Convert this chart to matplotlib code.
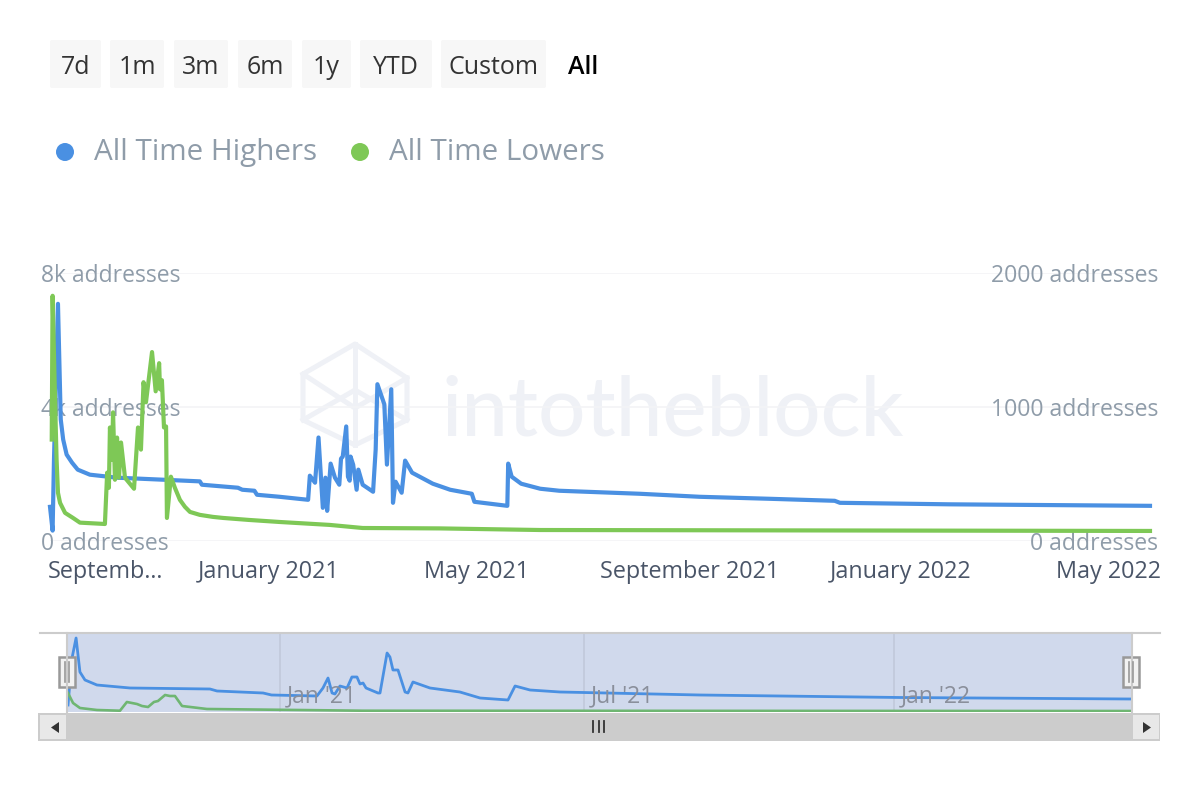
import numpy as np
import matplotlib
matplotlib.use("Agg")
import matplotlib.dates as mdates
import matplotlib.patches as mpt
import matplotlib.pyplot as plt
from matplotlib.transforms import ScaledTranslation

plt.rcParams["font.family"] = ["Open Sans", "DejaVu Sans"]

START_DATE = "2020-08-28"

# main chart, days since START_DATE
high_days = [0, 1.5, 2.3, 4.6, 6.2, 7.6, 9.6, 12.7, 16, 23, 38.7, 65, 86.5, 87.7, 108.5, 111, 118, 119.5, 132.5,
             149, 150, 153, 155, 157.5, 159, 160, 162, 164.5, 167, 168, 169, 171, 172, 173, 173.5, 175,
             177, 178, 180.5, 186.5, 188, 189, 193, 194.5, 197, 198, 199.5, 203, 205, 209, 221, 231,
             243.5, 245, 264, 264.5, 266.5, 272, 283, 294, 340.5, 375, 415.5, 453, 456, 519, 635]
high_values = [1020, 310, 2430, 7080, 3630, 3030, 2580, 2340, 2130, 1980, 1890, 1830, 1780, 1680, 1590, 1530, 1500, 1380, 1320,
               1230, 1950, 1740, 3090, 990, 1890, 900, 2310, 1890, 1680, 2460, 2520, 3420, 1920, 1800, 2520, 2280,
               1530, 2130, 1680, 1470, 2730, 4680, 4080, 2280, 4530, 1140, 1770, 1440, 2400, 2040, 1710, 1530,
               1410, 1170, 1050, 2310, 1920, 1710, 1560, 1500, 1410, 1320, 1260, 1200, 1140, 1095, 1050]

low_days = [1, 1.5, 2.9, 3.8, 4.6, 5.8, 8.7, 13.3, 17.3, 31.7, 33, 34, 34.6, 35.8, 36.4, 37.5, 38.7, 39.8, 41, 43.3,
            48.5, 50.8, 52.5, 54, 55.4, 58.9, 61, 63, 63.5, 64.6, 65.8, 67, 67.5, 69.8, 72.1, 75, 77.9, 80.8, 86.5, 94, 100,
            115, 132.5, 161.5, 180.5, 225, 283, 635]
low_values = [757, 1830, 1057, 607, 360, 285, 210, 172, 137, 127, 510, 397, 847, 607, 960, 457, 772, 472, 735, 472,
              390, 847, 682, 1185, 1035, 1410, 1117, 1327, 1132, 1200, 847, 855, 172, 480, 397, 307, 255, 217, 195, 180, 172,
              157, 142, 120, 97, 94, 82, 75]

# navigator series (smoothed)
nav_high_days = [0, 2.4, 4.8, 7.1, 10.1, 17.2, 36.9, 84.4, 88.6, 116, 121, 148, 151.6, 154.6, 157, 158.7, 161.7,
                 165.9, 168.8, 171.8, 173.6, 175.4, 177.2, 184.3, 185.5, 189.7, 191.4, 193.2, 196.2, 200.4,
                 202.1, 205.1, 215.2, 233, 245, 261.6, 265.8, 274.7, 292.5, 375.7, 494.6, 632]
nav_high_values = [700, 5400, 7400, 4000, 3200, 2700, 2400, 2300, 2100, 1900, 1700, 1600, 2400, 3400, 1900, 1800, 2600,
                   2400, 3500, 3500, 2800, 2900, 2400, 1900, 1900, 5900, 5500, 4200, 4200, 2000,
                   1900, 3000, 2400, 2000, 1400, 1200, 2600, 2200, 2000, 1700, 1450, 1300]
nav_low_days = [0, 3, 7.1, 17.2, 30.9, 35, 41, 44, 47.6, 51.1, 53.5, 57.7, 60.6, 63.6, 67.8, 82.6, 175.4, 632]
nav_low_values = [475, 225, 100, 50, 32, 250, 200, 150, 125, 250, 275, 425, 400, 400, 150, 75, 32, 25]

x_tick_dates = ["2020-09-01", "2021-01-01", "2021-05-01", "2021-09-01", "2022-01-01", "2022-05-01"]
x_tick_labels = ["Septemb…", "January 2021", "May 2021", "September 2021", "January 2022", "May 2022"]
left_ticks = [0, 4000, 8000]
left_labels = ["0 addresses", "4k addresses", "8k addresses"]
right_ticks = [0, 1000, 2000]
right_labels = ["0 addresses", "1000 addresses", "2000 addresses"]
nav_tick_dates = ["2021-01-01", "2021-07-01", "2022-01-01"]
nav_tick_labels = ["Jan '21", "Jul '21", "Jan '22"]
range_buttons = ["7d", "1m", "3m", "6m", "1y", "YTD", "Custom"]
button_edges = [(50, 101), (110, 164), (174, 228), (238, 292), (302, 351), (360, 432), (441, 546)]

BLUE = "#4a90e2"
GREEN = "#7ec856"
GREY = "#8f9ca9"
GRID = "#f3f4f6"
MARK = "#eff1f6"
BORDER = "#cccccc"

W, H = 1200, 800


def to_dates(days):
    return mdates.date2num(np.datetime64(START_DATE)) + np.array(days, dtype=float)


def px_axes(x0, y0, x1, y1, zorder):
    a = fig.add_axes([x0 / W, 1 - y1 / H, (x1 - x0) / W, (y1 - y0) / H], zorder=zorder)
    a.patch.set_visible(False)
    return a


def overlay(zorder):
    a = fig.add_axes([0, 0, 1, 1], zorder=zorder)
    a.set_xlim(0, W)
    a.set_ylim(H, 0)
    a.axis("off")
    a.patch.set_visible(False)
    return a


fig = plt.figure(figsize=(12, 8), dpi=100)
bg = overlay(0)
fg = overlay(5)

# watermark
logo = [[(303, 374), (355, 344), (407, 378), (355, 408), (303, 374), (303, 420), (355, 445), (407, 420), (407, 378)],
        [(355, 344), (355, 408)], [(303, 420), (355, 390), (407, 420)], [(355, 408), (355, 445)]]
for part in logo:
    xs, ys = zip(*part)
    bg.plot(xs, ys, color=MARK, lw=3.6, solid_joinstyle="round")
bg.text(441, 413, "intotheblock", fontsize=60, color=MARK, family="Lato", weight="medium", va="center", ha="left")

# main chart
ax = px_axes(50, 273, 1150, 541, 2)
ax.set_axisbelow(True)
ax.plot(to_dates(high_days), high_values, color=BLUE, lw=3.0, solid_joinstyle="round", clip_on=False)
ax.set_xlim(to_dates([0, 635]))
ax.set_ylim(0, 8000)
ax.set_yticks(left_ticks)
ax.set_yticklabels(left_labels)
ax.grid(axis="y", color=GRID, lw=1.2)
ax.tick_params(axis="y", length=0, pad=6.5, labelsize=16.5, labelcolor=GREY)
for label in ax.get_yticklabels():
    label.set_ha("left")
ax.set_xticks(mdates.date2num(np.array(x_tick_dates, dtype="datetime64[D]")))
ax.set_xticklabels(x_tick_labels)
ax.tick_params(axis="x", length=0, pad=13.5, labelsize=16.8, labelcolor="#4a5568")
first_label = ax.get_xticklabels()[0]
first_label.set_ha("left")
first_label.set_transform(first_label.get_transform() + ScaledTranslation(-9 / 100, 0, fig.dpi_scale_trans))
for side in ax.spines.values():
    side.set_visible(False)

ax_right = ax.twinx()
ax_right.set_zorder(3)
ax_right.patch.set_visible(False)
ax_right.set_axisbelow(True)
ax_right.plot(to_dates(low_days), low_values, color=GREEN, lw=3.0, solid_joinstyle="round", clip_on=False)
ax_right.set_ylim(0, 2000)
ax_right.set_yticks(right_ticks)
ax_right.set_yticklabels(right_labels)
ax_right.tick_params(axis="y", length=0, pad=6, labelsize=16.6, labelcolor=GREY)
for label in ax_right.get_yticklabels():
    label.set_ha("right")
for side in ax_right.spines.values():
    side.set_visible(False)

# navigator
nav = px_axes(68, 633, 1131, 712, 2)
nav.patch.set_visible(True)
nav.patch.set_facecolor("#d0d9ec")
nav.plot(to_dates(nav_high_days), nav_high_values, color=BLUE, lw=2.0, solid_joinstyle="round")
nav.set_xlim(to_dates([0, 632]))
nav.set_ylim(0, 7900)
nav_ticks = mdates.date2num(np.array(nav_tick_dates, dtype="datetime64[D]"))
nav.set_xticks(nav_ticks)
nav.set_xticklabels([])
nav.set_yticks([])
nav.grid(axis="x", color="#c1c9db", lw=1.2)
nav.tick_params(length=0)
for tick, text in zip(nav_ticks, nav_tick_labels):
    nav.text(tick + 4, 0.2, text, transform=nav.get_xaxis_transform(), fontsize=16.5, color="#8a8f9b",
             ha="left", va="center", zorder=4)
for side in nav.spines.values():
    side.set_visible(False)

nav_right = nav.twinx()
nav_right.patch.set_visible(False)
nav_right.plot(to_dates(nav_low_days), nav_low_values, color="#6fb672", lw=1.9, solid_joinstyle="round")
nav_right.set_ylim(0, 1975)
nav_right.set_yticks([])
for side in nav_right.spines.values():
    side.set_visible(False)

# range selector
for name, (x0, x1) in zip(range_buttons, button_edges):
    bg.add_patch(mpt.FancyBboxPatch((x0 + 2, 42), x1 - x0 - 4, 44, boxstyle="round,pad=2", fc="#f7f7f7", ec="none"))
    bg.text((x0 + x1) / 2, 74, name, fontsize=18, color="#333333", ha="center", va="baseline")
bg.text(583, 74, "All", fontsize=18, color="black", ha="center", va="baseline", weight="semibold")

# legend
for cx, text_x, name, color in [(65, 94, "All Time Highers", BLUE), (360, 389, "All Time Lowers", GREEN)]:
    bg.add_patch(mpt.Ellipse((cx, 152), 18, 18, fc=color, ec="none"))
    bg.text(text_x, 160, name, fontsize=21.3, color=GREY, ha="left", va="baseline")

# scrollbar and handles
fg.plot([40, 1160], [632.5, 632.5], color=BORDER, lw=1.5)
fg.plot([67, 67], [633, 712], color=BORDER, lw=1.5)
fg.plot([1132, 1132], [633, 712], color=BORDER, lw=1.5)
fg.add_patch(mpt.Rectangle((38, 713), 1122, 28, fc=BORDER, ec="none"))
for x0, tri in [(40, [(59, 722), (59, 733), (51, 727.5)]), (1133, [(1143, 722), (1143, 733), (1151, 727.5)])]:
    fg.add_patch(mpt.Rectangle((x0, 715), 26, 24, fc="#e8e8e8", ec="none"))
    fg.add_patch(mpt.Polygon(tri, fc="#333333", ec="none"))
for x in [593, 598.5, 604]:
    fg.plot([x, x], [721, 732], color="#333333", lw=1.3)
for cx in [67, 1131]:
    fg.add_patch(mpt.Rectangle((cx - 8, 657), 16, 30, fc="#f2f2f2", ec="#999999", lw=1.8))
    for dx in [-2, 2]:
        fg.plot([cx + dx, cx + dx], [662, 682], color="#999999", lw=1.2)

fig.savefig("out.png", dpi=100)
